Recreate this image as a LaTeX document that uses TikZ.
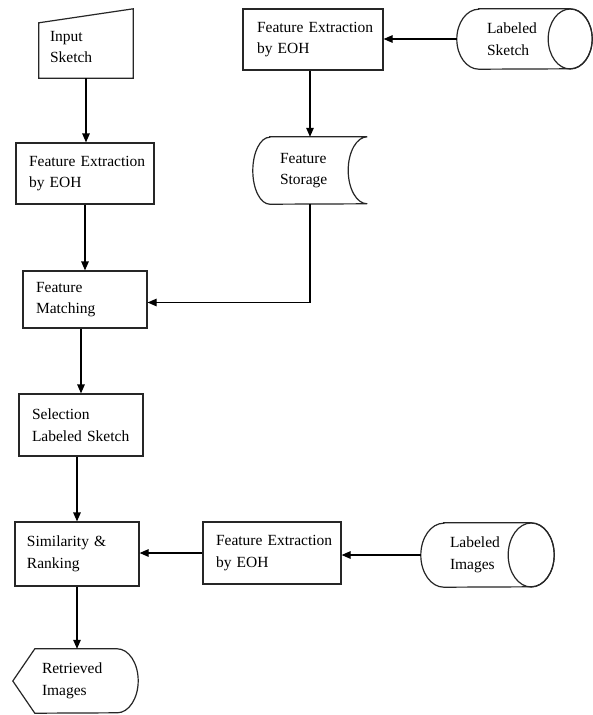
\documentclass[tikz,border=0pt]{standalone}
\usepackage{fontspec}
\setmainfont{Liberation Serif}
\usetikzlibrary{calc,arrows.meta}
\begin{document}
\begin{tikzpicture}[x=1pt,y=-1pt,
  lw/.style={line width=1.2pt},
  txt/.style={align=left, font=\fontsize{15.5}{21.5}\selectfont, inner ysep=0pt, text=black},
  box/.style={txt, draw=black!85, lw, rectangle},
  ghost/.style={txt, draw=none, rectangle},
  arr/.style={lw, draw=black, -{Triangle[length=9pt,width=7.5pt]}},
  outl/.style={lw, draw=black!85}]
\useasboundingbox[fill=white] (0,0) rectangle (593,715);

% Input sketch (manual input)
\node[ghost, minimum width=94pt, minimum height=62pt, inner xsep=11pt, text width=72pt] (in) at (86,47) {Input\\Sketch};
\draw[outl] (in.south west) -- (in.south east) -- ($(in.north east)+(0,-7)$) -- ($(in.north west)+(0,7)$) -- cycle;

% Feature extraction boxes
\node[box, minimum width=138pt, minimum height=61pt, inner xsep=13pt, text width=112pt] (fe1) at (85,173.5) {\mbox{Feature Extraction}\\\mbox{by EOH}};
\node[box, minimum width=140pt, minimum height=61pt, inner xsep=14pt, text width=112pt] (fe2) at (313,39.5) {\mbox{Feature Extraction}\\\mbox{by EOH}};
\node[box, minimum width=138pt, minimum height=62pt, inner xsep=13pt, text width=112pt] (fe3) at (272,553) {\mbox{Feature Extraction}\\\mbox{by EOH}};

% Labeled sketch (cylinder)
\node[ghost, minimum width=135pt, minimum height=60pt, inner xsep=30pt, text width=75pt] (ls) at (524.5,39) {Labeled\\Sketch};
\draw[outl] ($(ls.north west)+(22,0)$) -- ($(ls.north east)+(-22,0)$) arc[start angle=90, end angle=-90, x radius=22pt, y radius=30pt] -- ($(ls.south west)+(22,0)$) arc[start angle=270, end angle=90, x radius=22pt, y radius=30pt] -- cycle;
\draw[outl] ($(ls.east)+(-22,0)$) ellipse[x radius=22pt, y radius=30pt];

% Feature storage (stored data)
\node[ghost, minimum width=114pt, minimum height=67pt, inner xsep=27pt, text width=60pt] (fs) at (310,170.5) {Feature\\Storage};
\draw[outl] ($(fs.north west)+(17,0)$) -- (fs.north east) arc[start angle=90, end angle=270, x radius=19pt, y radius=33.5pt] -- ($(fs.south west)+(17,0)$) arc[start angle=270, end angle=90, x radius=17pt, y radius=33.5pt] -- cycle;

% Feature matching
\node[box, minimum width=124pt, minimum height=57pt, inner xsep=13pt, text width=98pt] (fm) at (85,299.5) {Feature\\Matching};

% Selection labeled sketch
\node[box, minimum width=124pt, minimum height=62pt, inner xsep=13pt, text width=98pt] (sls) at (81,425) {Selection\\\mbox{Labeled Sketch}};

% Similarity & ranking
\node[box, minimum width=124pt, minimum height=64pt, inner xsep=12pt, text width=100pt] (sr) at (77,554) {\mbox{Similarity \&}\\Ranking};

% Labeled images (cylinder)
\node[ghost, minimum width=133pt, minimum height=64pt, inner xsep=29pt, text width=75pt] (li) at (487.5,555) {Labeled\\Images};
\draw[outl] ($(li.north west)+(23,0)$) -- ($(li.north east)+(-23,0)$) arc[start angle=90, end angle=-90, x radius=23pt, y radius=32pt] -- ($(li.south west)+(23,0)$) arc[start angle=270, end angle=90, x radius=23pt, y radius=32pt] -- cycle;
\draw[outl] ($(li.east)+(-23,0)$) ellipse[x radius=23pt, y radius=32pt];

% Retrieved images (display)
\node[ghost, minimum width=125pt, minimum height=64pt, inner xsep=29pt, text width=67pt] (ri) at (75.5,681) {Retrieved\\Images};
\draw[outl] (ri.west) -- ($(ri.north west)+(22,0)$) -- ($(ri.north east)+(-21,0)$) arc[start angle=90, end angle=-90, x radius=21pt, y radius=32pt] -- ($(ri.south west)+(22,0)$) -- cycle;

% Connectors
\draw[arr] (in.south) -- (in.south |- fe1.north);
\draw[arr] (ls.west) -- (ls.west -| fe2.east);
\draw[arr] (fe2.south -| fs.north) -- (fs.north);
\draw[arr] (fe1.south) -- (fm.north);
\draw[arr] (fs.south) |- ($(fm.east)+(0,3)$);
\draw[arr] (sls.north |- fm.south) -- (sls.north);
\draw[arr] (sr.north |- sls.south) -- (sr.north);
\draw[arr] (fe3.west) -- (fe3.west -| sr.east);
\draw[arr] (li.west) -- (li.west -| fe3.east);
\draw[arr] (sr.south) -- (sr.south |- ri.north);
\end{tikzpicture}
\end{document}
